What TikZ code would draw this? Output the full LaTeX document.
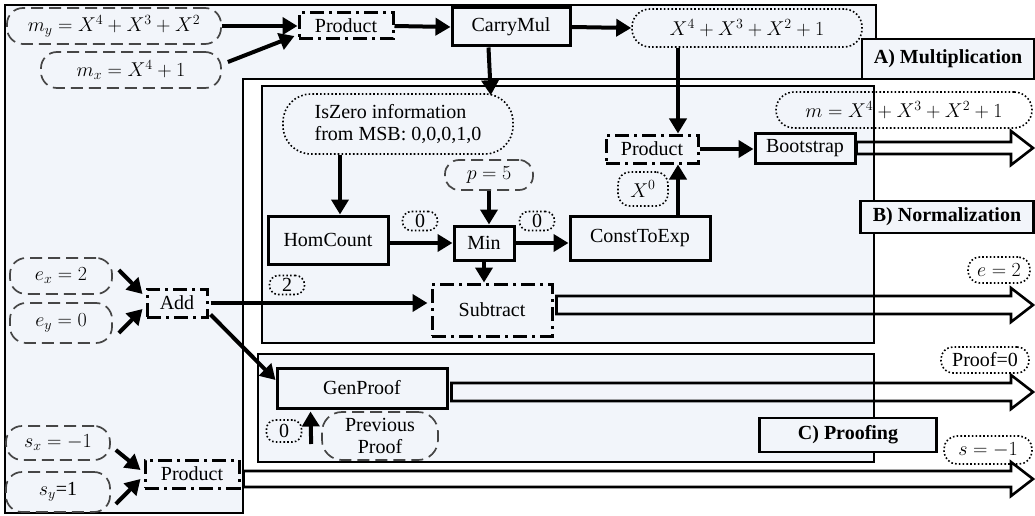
\documentclass[tikz,border=0pt]{standalone}
\usepackage{fix-cm}
\usepackage{fontspec}
\setmainfont{Liberation Serif}
\usetikzlibrary{arrows.meta,calc}
\definecolor{panel}{RGB}{242,245,250}
\definecolor{outline}{RGB}{70,70,70}

\tikzset{
  every node/.style={font=\fontsize{20}{22}\selectfont, inner sep=0pt, align=center},
  stepbox/.style={draw, line width=3pt, fill=panel},
  opbox/.style={draw, line width=3pt, dash pattern=on 14pt off 5pt on 3pt off 5pt},
  inval/.style={draw=outline, line width=1.7pt, dash pattern=on 12pt off 6pt, rounded corners=16pt},
  tag/.style={draw, line width=1.6pt, dash pattern=on 1.6pt off 2.2pt, rounded corners=9pt},
  region/.style={draw, line width=2pt, fill=panel},
  title/.style={draw, line width=2.2pt, fill=panel, font=\fontsize{20}{22}\selectfont\bfseries},
  flow/.style={line width=4pt, -{Triangle[length=15pt,width=17pt]}},
  fat/.style={line width=2.6pt, line join=miter},
}

% wide hollow output arrow from a point to the right margin
\newcommand\widearrow[2]{%
  \draw[fat] let \p1=(#1) in
    (\x1,\y1+#2) -- (1011pt,\y1+#2) -- (1011pt,\y1+17pt) -- (1033pt,\y1)
    -- (1011pt,\y1-17pt) -- (1011pt,\y1-#2) -- (\x1,\y1-#2) -- cycle;}

\begin{document}
\begin{tikzpicture}[x=1pt,y=-1pt]
\useasboundingbox (0,0) rectangle (1035,516);

% stage panels
\draw[region] (5,5) -- (876,5) -- (876,79) -- (243,79) -- (243,513) -- (5,513) -- cycle;
\draw[region] (262,86) rectangle (874,343);
\draw[region] (258,354) rectangle (874,462);

% multiplication
\node[inval, minimum width=214pt, minimum height=36pt] (my) at (114,26) {$m_y = X^4 + X^3 + X^2$};
\node[inval, minimum width=180pt, minimum height=36pt] (mx) at (131,70) {$m_x = X^4 + 1$};
\node[opbox, minimum width=94pt, minimum height=26pt] (prodM) at (346,26) {Product};
\node[stepbox, minimum width=118pt, minimum height=38pt] (carry) at (511,27) {CarryMul};
\node[tag, rounded corners=18pt, minimum width=230pt, minimum height=38pt] (poly) at (747,28) {$X^4 + X^3 + X^2 + 1$};

% normalization
\node[tag, rounded corners=28pt, minimum width=230pt, minimum height=60pt, align=left] (isz) at (398,124) {IsZero information\\from MSB: 0,0,0,1,0};
\node[stepbox, minimum width=120pt, minimum height=48pt] (homc) at (328,240) {HomCount};
\node[tag, minimum width=35pt, minimum height=19pt] (zeroA) at (420,221) {0};
\node[stepbox, minimum width=60pt, minimum height=34pt] (minn) at (484,243) {Min};
\node[inval, rounded corners=14pt, minimum width=88pt, minimum height=30pt] (p5) at (489,175) {$p = 5$};
\node[tag, minimum width=35pt, minimum height=19pt] (zeroB) at (537,221) {0};
\node[stepbox, minimum width=140pt, minimum height=44pt] (cte) at (640,238) {ConstToExp};
\node[opbox, minimum width=92pt, minimum height=28pt] (prodN) at (652,149) {Product};
\node[tag, rounded corners=12pt, minimum width=50pt, minimum height=34pt] (x0) at (643,189) {$X^0$};
\node[stepbox, minimum width=100pt, minimum height=30pt] (boot) at (805,148) {Bootstrap};
\node[tag, rounded corners=18pt, minimum width=256pt, minimum height=36pt] (mres) at (904,110) {$m = X^4 + X^3 + X^2 + 1$};

\node[inval, minimum width=102pt, minimum height=36pt] (ex) at (61,276) {$e_x = 2$};
\node[inval, minimum width=102pt, minimum height=40pt] (ey) at (61,323) {$e_y = 0$};
\node[opbox, minimum width=60pt, minimum height=28pt] (add) at (177,303) {Add};
\node[tag, minimum width=35pt, minimum height=19pt] (two) at (287,285) {2};
\node[opbox, minimum width=120pt, minimum height=52pt] (sub) at (492,310) {Subtract};
\node[tag, rounded corners=12pt, minimum width=62pt, minimum height=26pt] (eres) at (999,270) {$e = 2$};

% proofing
\node[stepbox, minimum width=170pt, minimum height=40pt] (gen) at (362,388) {GenProof};
\node[inval, rounded corners=20pt, minimum width=116pt, minimum height=48pt] (prev) at (380,436) {Previous\\Proof};
\node[tag, minimum width=35pt, minimum height=22pt] (zeroC) at (284,431) {0};
\node[tag, rounded corners=12pt, minimum width=88pt, minimum height=26pt] (pres) at (985,360) {Proof=0};

% sign
\node[inval, minimum width=104pt, minimum height=34pt] (sx) at (58,443) {$s_x = -1$};
\node[inval, minimum width=104pt, minimum height=40pt] (sy) at (58,492) {$s_y$=1};
\node[opbox, minimum width=94pt, minimum height=28pt] (prodS) at (192,474) {Product};
\node[tag, rounded corners=13pt, minimum width=88pt, minimum height=28pt] (sres) at (988,450) {$s = -1$};

% data flow
\draw[flow] (my.east) -- (prodM.west);
\draw[flow] ($(mx.east)+(6,-8)$) -- ($(prodM.west)+(-3,10)$);
\draw[flow] (prodM.east) -- (carry.west);
\draw[flow] (carry.east) -- (poly.west);
\draw[flow] ($(carry.south west)+(38,0)$) -- ($(isz.north east)+(-23,2)$);
\draw[flow] ($(poly.south)+(-69,0)$) -- ($(prodN.north)+(26,0)$);
\draw[flow] ($(isz.south)+(-58,0)$) -- ($(homc.north)+(12,0)$);
\draw[flow] (homc.east |- minn.west) -- (minn.west);
\draw[flow] (p5.south) -- (p5.south |- minn.north);
\draw[flow] (minn.east) -- (minn.east -| cte.west);
\draw[flow] ($(cte.north)+(38,0)$) -- ($(prodN.south)+(26,0)$);
\draw[flow] (prodN.east) -- (prodN.east -| boot.west);
\draw[flow] (minn.south) -- (minn.south |- sub.north);
\draw[flow] ($(ex.east)+(6,-6)$) -- ($(add.west)+(-3,-9)$);
\draw[flow] ($(ey.east)+(6,10)$) -- ($(add.west)+(-3,6)$);
\draw[flow] ($(add.east)+(2,0)$) -- ($(add.east -| sub.west)+(-3,0)$);
\draw[flow] ($(add.south east)+(2,-4)$) -- ($(gen.west)+(0,-8)$);
\draw[flow] ($(prev.west)+(-10,8)$) -- ($(gen.south west)+(35,2)$);
\draw[flow] ($(sx.east)+(5,7)$) -- ($(prodS.west)+(-3,-4)$);
\draw[flow] ($(sy.east)+(5,12)$) -- ($(prodS.west)+(-3,5)$);

% stage outputs
\widearrow{boot.east}{6pt}
\widearrow{$(sub.east)+(3,-5)$}{9pt}
\widearrow{$(gen.east)+(3,4)$}{9pt}
\widearrow{$(prodS.east)+(3,5)$}{8pt}

% stage titles
\node[title, minimum width=172pt, minimum height=40pt] (tA) at (948,59) {A) Multiplication};
\node[title, minimum width=173pt, minimum height=32pt] (tB) at (947,217) {B) Normalization};
\node[title, minimum width=177pt, minimum height=34pt] (tC) at (848,435) {C) Proofing};
\end{tikzpicture}
\end{document}
